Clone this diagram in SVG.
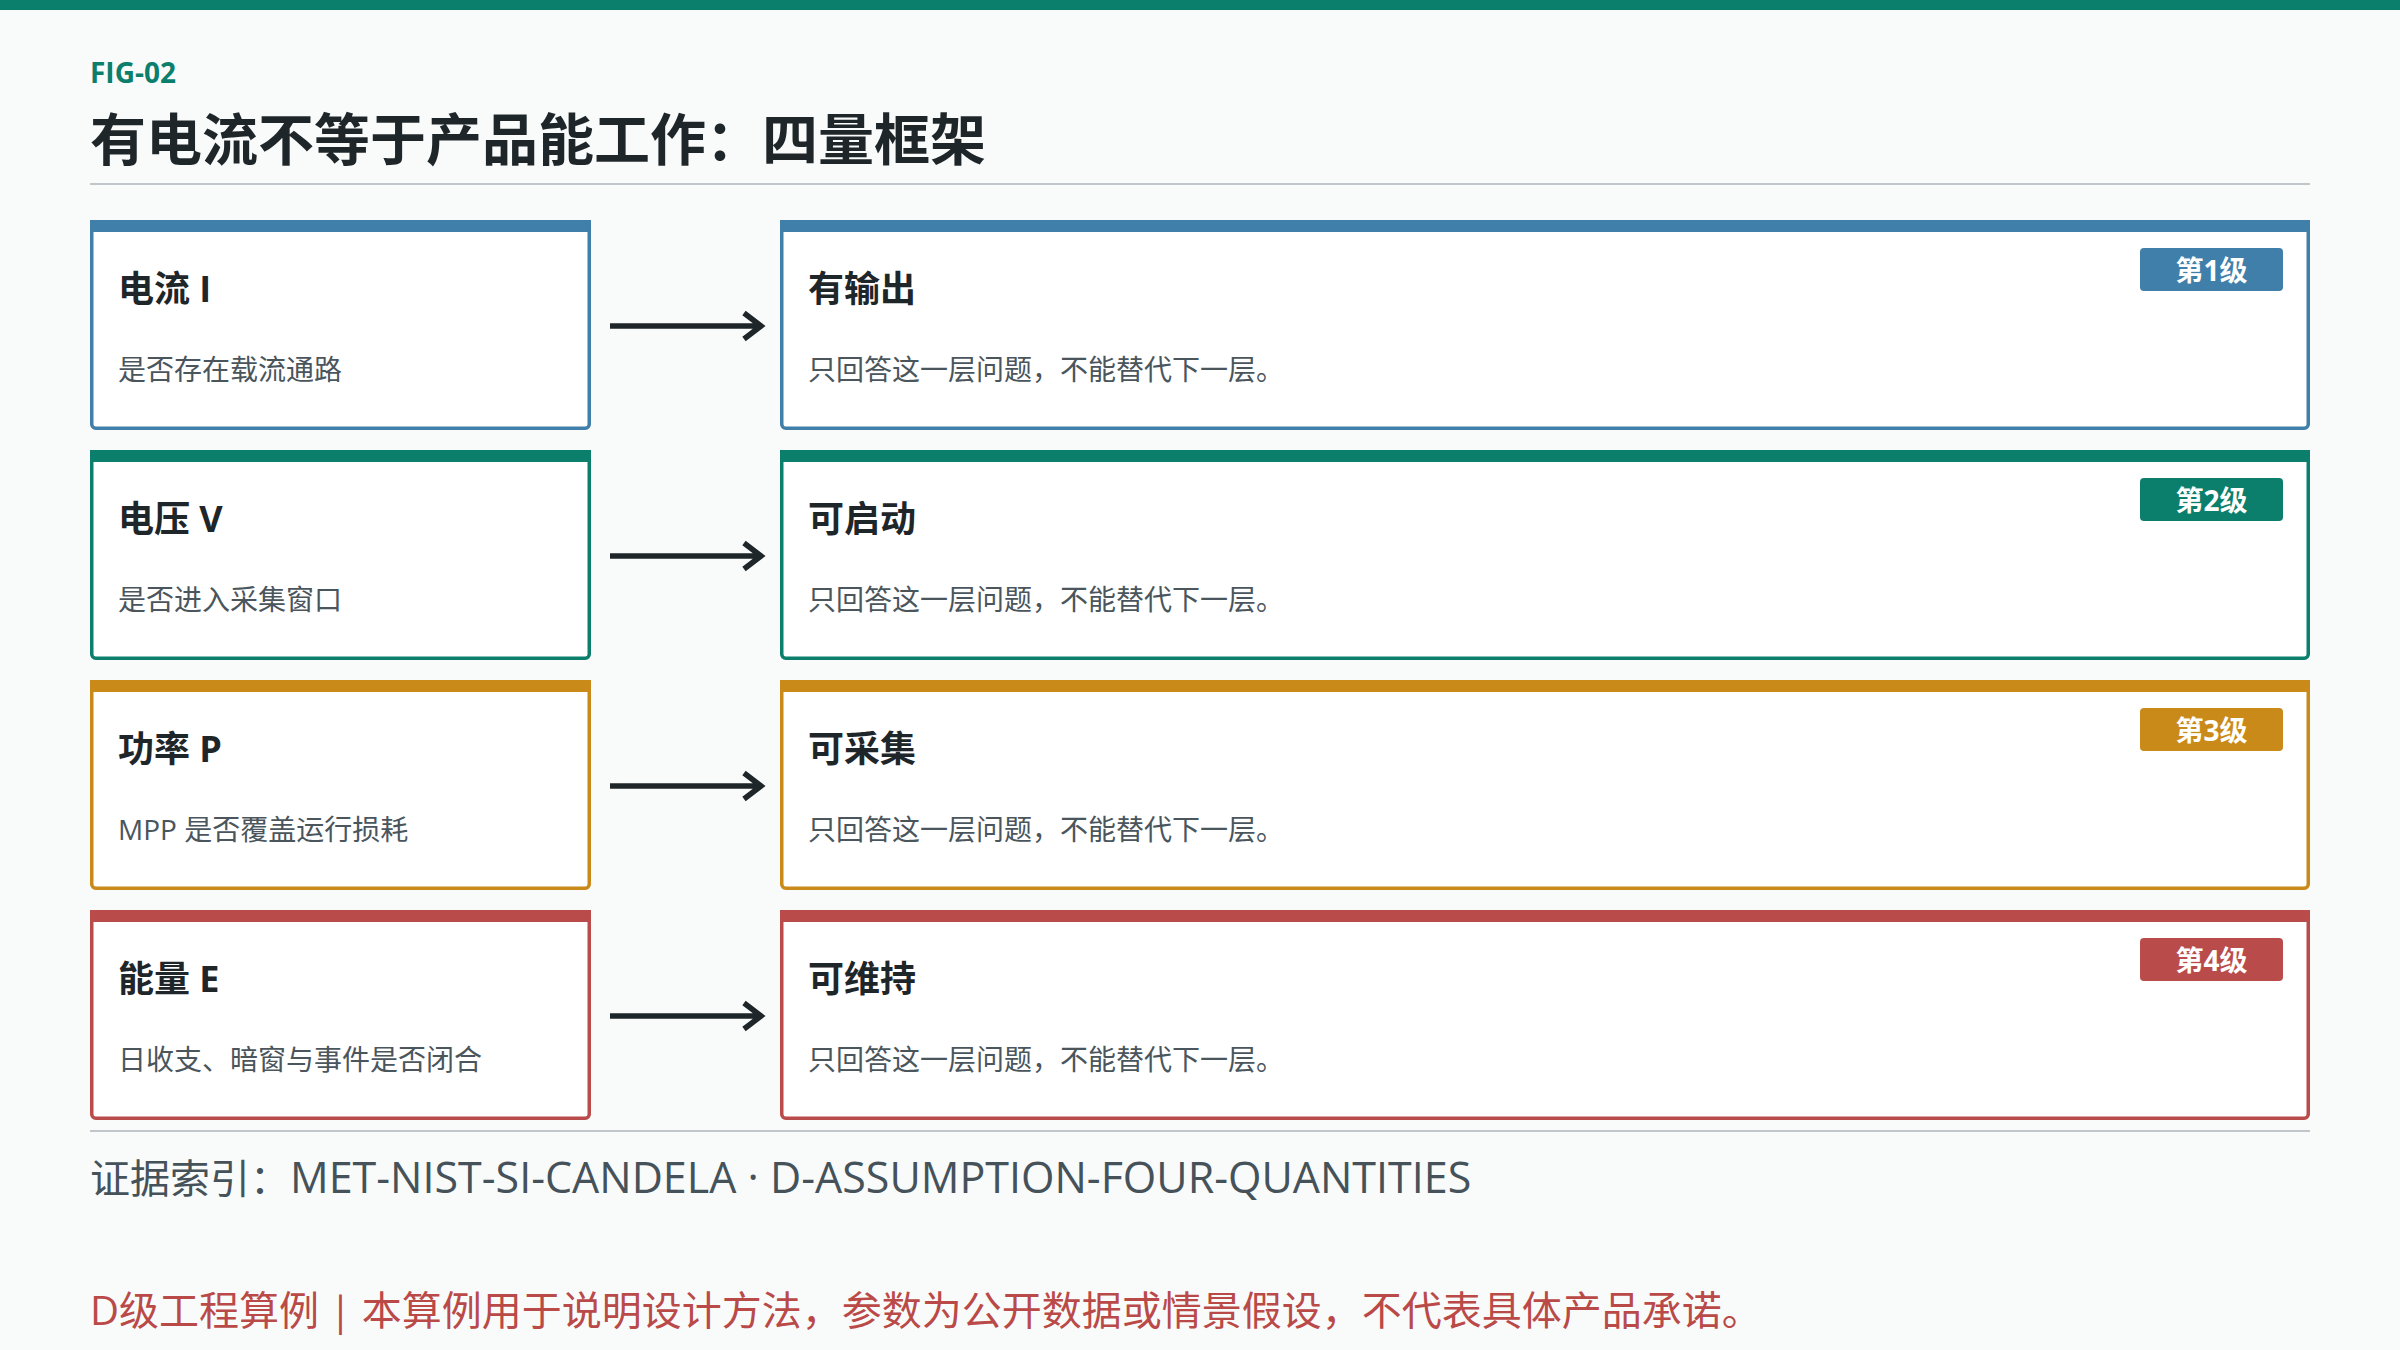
<svg xmlns="http://www.w3.org/2000/svg" width="2400" height="1350" viewBox="0 0 2400 1350">
<style>
text{font-family:"Open Sans","Noto Sans CJK SC",sans-serif;}
.fig{font-size:28px;font-weight:700;fill:#0b7f6b;}
.title{font-size:56px;font-weight:700;fill:#1f2629;}
.ct{font-size:36px;font-weight:700;fill:#1f2629;}
.cs{font-size:28px;fill:#4a555c;}
.badge-t{font-size:28px;font-weight:700;fill:#ffffff;text-anchor:middle;}
.card{fill:#ffffff;stroke-width:3.5;}
.rule{stroke:#c0c6c9;stroke-width:2;}
.arrow{fill:none;stroke:#1f2629;stroke-width:5.5;}
.ev{font-size:40px;fill:#46525a;}
.evl{font-size:43px;}
.disc{font-size:40px;fill:#b94a48;}
.c1{stroke:#407faa;} .f1{fill:#407faa;}
.c2{stroke:#0b7f6b;} .f2{fill:#0b7f6b;}
.c3{stroke:#c98a1a;} .f3{fill:#c98a1a;}
.c4{stroke:#b94c4b;} .f4{fill:#b94c4b;}
</style>
<rect x="0" y="0" width="2400" height="1350" fill="#f9fbfb"/>
<rect x="0" y="0" width="2400" height="10" fill="#0b7f6b"/>
<text class="fig" x="90" y="83">FIG-02</text>
<text class="title" x="90" y="160">有电流不等于产品能工作：四量框架</text>
<line class="rule" x1="90" y1="184" x2="2310" y2="184"/>

<g id="q1">
<rect class="card c1" x="91.75" y="221.75" width="497.5" height="206.5" rx="4"/>
<rect class="f1" x="90" y="220" width="501" height="12"/>
<text class="ct" x="118" y="302">电流 I</text>
<text class="cs" x="118" y="380">是否存在载流通路</text>
</g>
<g id="l1">
<rect class="card c1" x="781.75" y="221.75" width="1526.5" height="206.5" rx="4"/>
<rect class="f1" x="780" y="220" width="1530" height="12"/>
<text class="ct" x="808" y="302">有输出</text>
<text class="cs" x="808" y="380">只回答这一层问题，不能替代下一层。</text>
<rect class="f1" x="2140" y="248" width="143" height="43" rx="4"/>
<text class="badge-t" x="2211.5" y="281">第1级</text>
</g>

<g id="q2">
<rect class="card c2" x="91.75" y="451.75" width="497.5" height="206.5" rx="4"/>
<rect class="f2" x="90" y="450" width="501" height="12"/>
<text class="ct" x="118" y="532">电压 V</text>
<text class="cs" x="118" y="610">是否进入采集窗口</text>
</g>
<g id="l2">
<rect class="card c2" x="781.75" y="451.75" width="1526.5" height="206.5" rx="4"/>
<rect class="f2" x="780" y="450" width="1530" height="12"/>
<text class="ct" x="808" y="532">可启动</text>
<text class="cs" x="808" y="610">只回答这一层问题，不能替代下一层。</text>
<rect class="f2" x="2140" y="478" width="143" height="43" rx="4"/>
<text class="badge-t" x="2211.5" y="511">第2级</text>
</g>

<g id="q3">
<rect class="card c3" x="91.75" y="681.75" width="497.5" height="206.5" rx="4"/>
<rect class="f3" x="90" y="680" width="501" height="12"/>
<text class="ct" x="118" y="762">功率 P</text>
<text class="cs" x="118" y="840">MPP 是否覆盖运行损耗</text>
</g>
<g id="l3">
<rect class="card c3" x="781.75" y="681.75" width="1526.5" height="206.5" rx="4"/>
<rect class="f3" x="780" y="680" width="1530" height="12"/>
<text class="ct" x="808" y="762">可采集</text>
<text class="cs" x="808" y="840">只回答这一层问题，不能替代下一层。</text>
<rect class="f3" x="2140" y="708" width="143" height="43" rx="4"/>
<text class="badge-t" x="2211.5" y="741">第3级</text>
</g>

<g id="q4">
<rect class="card c4" x="91.75" y="911.75" width="497.5" height="206.5" rx="4"/>
<rect class="f4" x="90" y="910" width="501" height="12"/>
<text class="ct" x="118" y="992">能量 E</text>
<text class="cs" x="118" y="1070">日收支、暗窗与事件是否闭合</text>
</g>
<g id="l4">
<rect class="card c4" x="781.75" y="911.75" width="1526.5" height="206.5" rx="4"/>
<rect class="f4" x="780" y="910" width="1530" height="12"/>
<text class="ct" x="808" y="992">可维持</text>
<text class="cs" x="808" y="1070">只回答这一层问题，不能替代下一层。</text>
<rect class="f4" x="2140" y="938" width="143" height="43" rx="4"/>
<text class="badge-t" x="2211.5" y="971">第4级</text>
</g>

<g id="connectors">
<path class="arrow" d="M610 326 H760 M744 313 L761 326 L744 339"/>
<path class="arrow" d="M610 556 H760 M744 543 L761 556 L744 569"/>
<path class="arrow" d="M610 786 H760 M744 773 L761 786 L744 799"/>
<path class="arrow" d="M610 1016 H760 M744 1003 L761 1016 L744 1029"/>
</g>

<line class="rule" x1="90" y1="1131" x2="2310" y2="1131"/>
<text class="ev" x="90" y="1193">证据索引：<tspan class="evl">MET-NIST-SI-CANDELA · D-ASSUMPTION-FOUR-QUANTITIES</tspan></text>
<text class="disc" x="90" y="1325">D级工程算例 | 本算例用于说明设计方法，参数为公开数据或情景假设，不代表具体产品承诺。</text>
</svg>
